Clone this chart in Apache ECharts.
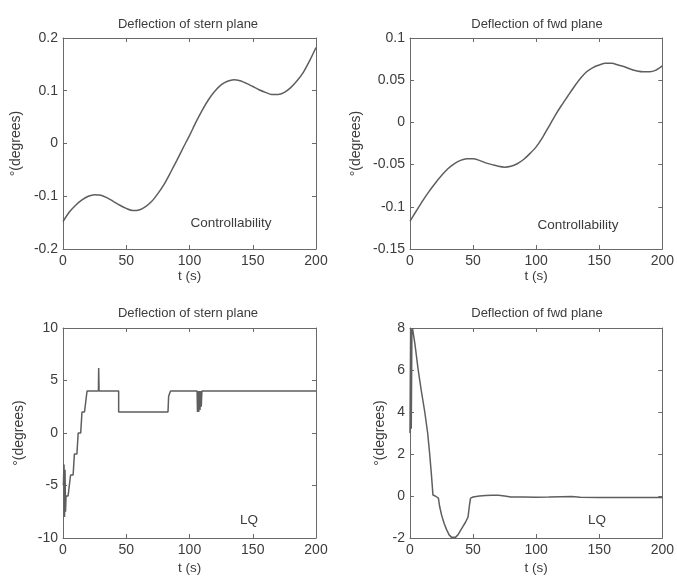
<!DOCTYPE html>
<html><head><meta charset="utf-8">
<script src="https://cdn.jsdelivr.net/npm/echarts@6/dist/echarts.min.js"></script>
<style>html,body{margin:0;padding:0;background:#fff}#c{width:677px;height:576px}</style>
</head><body><div id="c"></div><script>
// ---- data ----
const tCtrl = [0,5,10,15,20,25,30,35,40,45,50,55,60,65,70,75,80,85,90,95,100,105,110,115,120,125,130,135,140,145,150,155,160,165,170,175,180,185,190,195,200];
const sternCtrl = [-0.148,-0.130,-0.117,-0.107,-0.100,-0.097,-0.098,-0.103,-0.110,-0.117,-0.123,-0.127,-0.126,-0.120,-0.110,-0.095,-0.077,-0.055,-0.032,-0.008,0.015,0.040,0.063,0.083,0.099,0.111,0.118,0.121,0.119,0.114,0.108,0.102,0.097,0.093,0.093,0.097,0.106,0.119,0.135,0.157,0.182];
const fwdCtrl = [-0.117,-0.105,-0.093,-0.082,-0.072,-0.063,-0.055,-0.049,-0.045,-0.043,-0.043,-0.045,-0.048,-0.050,-0.052,-0.053,-0.052,-0.049,-0.044,-0.037,-0.029,-0.018,-0.005,0.008,0.020,0.031,0.042,0.052,0.060,0.065,0.068,0.070,0.070,0.068,0.066,0.063,0.061,0.060,0.060,0.062,0.067];
const tSternLQ = [0.3,0.8,1.2,1.6,2,2.4,4,6,8,9,11,12,14,15,17,19,28,28.2,28.5,44,44,83,83.5,84.5,85,106,106.3,106.8,107.3,107.8,108.3,108.8,109.3,109.8,200];
const sternLQ = [-5,-3,-8,-3.5,-7.5,-6,-6,-4,-4,-2,-2,0,0,2,2,4,4,6.2,4,4,2,2,3.5,3.6,4,4,2,4,2,4,2.2,4,2.5,4,4];
const tFwdLQ = [0,0.5,1,1.5,2,4,6.5,9,11.7,14,15.6,17,18.2,20,21.5,22.5,23.5,25,27,29,31,33,34.5,36,38,40,42,44,46,47,48,50,55,60,65,70,75,80,90,100,110,120,128,135,150,200];
const fwdLQ = [3,8,3.2,7.8,8,7.2,6,5,4,3,2,1,0.05,0,-0.05,-0.1,-0.5,-0.9,-1.3,-1.6,-1.85,-1.97,-2,-1.97,-1.85,-1.65,-1.45,-1.25,-1.0,-0.5,-0.1,-0.05,0,0.02,0.04,0.04,0,-0.05,-0.05,-0.06,-0.05,-0.03,-0.02,-0.06,-0.07,-0.07];
const titles = ['Deflection of stern plane','Deflection of fwd plane','Deflection of stern plane','Deflection of fwd plane'];
const notes = ['Controllability','Controllability','LQ','LQ'];
const yRanges = [[-0.2,0.2,0.1],[-0.15,0.1,0.05],[-10,10,5],[-2,8,2]];
const xRange = [0,200,50];
const xName = 't (s)';
const yName = '\u00B0(degrees)';

// ---- layout ----
const grids = [
  {left:63,top:38,width:253,height:211},
  {left:410,top:38,width:256,height:211},
  {left:63,top:328,width:253,height:210},
  {left:410,top:328,width:256,height:210}
];
const yNameGaps = [40,47,37,23];
const xNameGaps = [20,20,23,23];
const titlePos = [[188,24],[537,24],[188,313],[537,313]];
const notePos = [[231,223],[578,225],[249,520],[597,520]];
const FONT = 'Liberation Sans, Arial, sans-serif';
const TXT = '#3c3c3c', AX = '#6a6a6a', LINE = '#5e5e5e';

const xAxes = [], yAxes = [], series = [], graphic = [];
function pairs(t, v){ return t.map((x,i)=>[x,v[i]]); }
const dataSets = [pairs(tCtrl,sternCtrl), pairs(tCtrl,fwdCtrl), pairs(tSternLQ,sternLQ), pairs(tFwdLQ,fwdLQ)];

for (let g=0; g<4; g++){
  const [ymin,ymax,yint] = yRanges[g];
  const common = {gridIndex:g, type:'value', splitLine:{show:false},
    axisLine:{show:true,onZero:false,lineStyle:{color:AX,width:1}},
    axisTick:{show:true,inside:true,length:4,lineStyle:{color:AX}}};
  xAxes.push(Object.assign({}, common, {position:'bottom', min:xRange[0], max:xRange[1], interval:xRange[2],
    name:xName, nameLocation:'middle', nameGap:xNameGaps[g], nameTextStyle:{color:TXT,fontFamily:FONT,fontSize:13.5},
    axisLabel:{color:TXT,fontFamily:FONT,fontSize:14,margin:5}}));
  xAxes.push(Object.assign({}, common, {position:'top', min:xRange[0], max:xRange[1], interval:xRange[2], axisLabel:{show:false}}));
  yAxes.push(Object.assign({}, common, {position:'left', min:ymin, max:ymax, interval:yint,
    name:yName, nameLocation:'middle', nameGap:yNameGaps[g], nameRotate:90, nameTextStyle:{color:TXT,fontFamily:FONT,fontSize:14},
    axisLabel:{color:TXT,fontFamily:FONT,fontSize:14,margin:5}}));
  yAxes.push(Object.assign({}, common, {position:'right', min:ymin, max:ymax, interval:yint, axisLabel:{show:false}}));
  series.push({type:'line', xAxisIndex:2*g, yAxisIndex:2*g, data:dataSets[g], showSymbol:false,
    smooth: g<2 ? 0.25 : false, lineStyle:{color:LINE,width:1.5}, animation:false});
  graphic.push({type:'text', x:titlePos[g][0], y:titlePos[g][1],
    style:{text:titles[g], fill:TXT, font:'13px '+FONT, textAlign:'center', textVerticalAlign:'middle'}});
  graphic.push({type:'text', x:notePos[g][0], y:notePos[g][1],
    style:{text:notes[g], fill:TXT, font:'13.5px '+FONT, textAlign:'center', textVerticalAlign:'middle'}});
}

const chart = echarts.init(document.getElementById('c'), null, {renderer:'canvas'});
chart.setOption({backgroundColor:'#fff', animation:false, grid:grids, xAxis:xAxes, yAxis:yAxes, series:series, graphic:graphic});
</script></body></html>
